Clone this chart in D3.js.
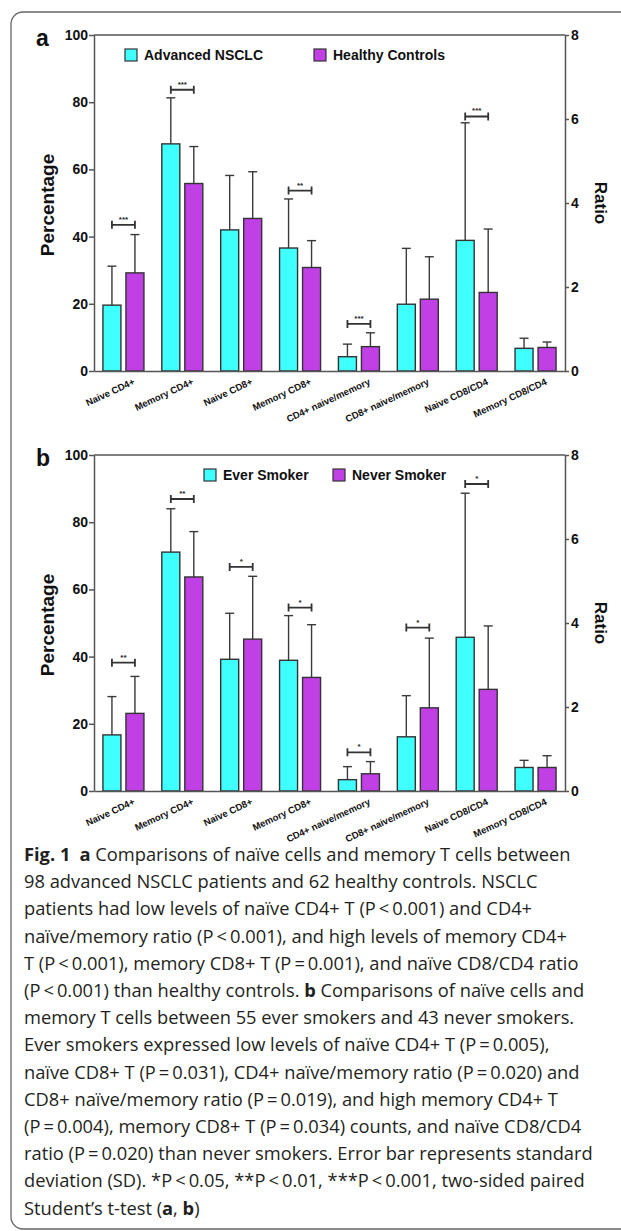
<!DOCTYPE html>
<html>
<head>
<meta charset="utf-8">
<script src="https://cdn.jsdelivr.net/npm/d3@7"></script>
<style>
  body { margin: 0; background: #fff; }
  svg { display: block; }
</style>
</head>
<body>
<svg id="fig" width="621" height="1231"></svg>
<script>
// ---- data ----------------------------------------------------------------
const categories = ["Naive CD4+", "Memory CD4+", "Naive CD8+", "Memory CD8+",
                    "CD4+ naive/memory", "CD8+ naive/memory", "Naive CD8/CD4", "Memory CD8/CD4"];
// the last four categories are ratios and are read on the right-hand axis
const onRatioAxis = [false, false, false, false, true, true, true, true];

const percentTicks = [0, 20, 40, 60, 80, 100];
const ratioTicks = [0, 2, 4, 6, 8];

// panel a: advanced NSCLC vs healthy controls (mean, SD)
const nsclcMean   = [19.6, 67.6, 42.0, 36.6, 0.34, 1.59, 3.11, 0.54];
const nsclcSD     = [11.6, 13.7, 16.2, 14.6, 0.30, 1.33, 2.80, 0.24];
const controlMean = [29.2, 55.8, 45.4, 30.8, 0.58, 1.71, 1.87, 0.56];
const controlSD   = [11.4, 11.0, 13.9, 8.0, 0.33, 1.01, 1.51, 0.13];

// panel b: ever vs never smokers (mean, SD)
const everMean  = [16.7, 71.1, 39.2, 38.9, 0.27, 1.29, 3.66, 0.56];
const everSD    = [11.4, 12.9, 13.7, 13.3, 0.31, 0.98, 3.43, 0.17];
const neverMean = [23.1, 63.7, 45.2, 33.8, 0.41, 1.98, 2.42, 0.56];
const neverSD   = [11.0, 13.5, 18.7, 15.7, 0.29, 1.66, 1.51, 0.28];

// significance brackets: category index, height (in that category's axis units), label
const sigIndexA = [0, 1, 3, 4, 6];
const sigLevelA = [43.5, 83.7, 53.7, 1.12, 6.06];
const sigTextA  = ["***", "***", "**", "***", "***"];

const sigIndexB = [0, 1, 2, 3, 4, 5, 6];
const sigLevelB = [38.2, 86.9, 66.7, 54.6, 0.92, 3.89, 7.31];
const sigTextB  = ["**", "**", "*", "*", "*", "*", "*"];

const seriesNamesA = ["Advanced NSCLC", "Healthy Controls"];
const seriesNamesB = ["Ever Smoker", "Never Smoker"];

const captionLines = [
  [["Fig. 1", true], ["\u2002", false], ["a", true], [" Comparisons of na\u00efve cells and memory T cells between", false]],
  [["98 advanced NSCLC patients and 62 healthy controls. NSCLC", false]],
  [["patients had low levels of na\u00efve CD4+ T (P\u2009<\u20090.001) and CD4+", false]],
  [["na\u00efve/memory ratio (P\u2009<\u20090.001), and high levels of memory CD4+", false]],
  [["T (P\u2009<\u20090.001), memory CD8+ T (P\u2009=\u20090.001), and na\u00efve CD8/CD4 ratio", false]],
  [["(P\u2009<\u20090.001) than healthy controls. ", false], ["b", true], [" Comparisons of na\u00efve cells and", false]],
  [["memory T cells between 55 ever smokers and 43 never smokers.", false]],
  [["Ever smokers expressed low levels of na\u00efve CD4+ T (P\u2009=\u20090.005),", false]],
  [["na\u00efve CD8+ T (P\u2009=\u20090.031), CD4+ na\u00efve/memory ratio (P\u2009=\u20090.020) and", false]],
  [["CD8+ na\u00efve/memory ratio (P\u2009=\u20090.019), and high memory CD4+ T", false]],
  [["(P\u2009=\u20090.004), memory CD8+ T (P\u2009=\u20090.034) counts, and na\u00efve CD8/CD4", false]],
  [["ratio (P\u2009=\u20090.020) than never smokers. Error bar represents standard", false]],
  [["deviation (SD). *P\u2009<\u20090.05, **P\u2009<\u20090.01, ***P\u2009<\u20090.001, two-sided paired", false]],
  [["Student\u2019s t-test (", false], ["a", true], [", ", false], ["b", true], [")", false]]
];

// ---- styling -------------------------------------------------------------
const CYAN = "#40ffff";
const PURPLE = "#c040e6";
const AXIS = "#555";
const EDGE = "#333";
const chartFont = "'Liberation Sans', Arial, Helvetica, sans-serif";

const svg = d3.select("#fig");

// outer frame with rounded corners (right side runs past the page edge)
svg.append("rect")
  .attr("x", 11).attr("y", 12)
  .attr("width", 700).attr("height", 1217)
  .attr("rx", 12)
  .attr("fill", "none")
  .attr("stroke", "#666")
  .attr("stroke-width", 1.3);

const x = d3.scaleBand().domain(categories).range([94, 565]);
const half = 2.5, barW = 18;

function drawPanel(cfg) {
  const g = svg.append("g").style("font-family", chartFont);
  const yL = d3.scaleLinear().domain([0, 100]).range([cfg.bottom, cfg.top]);
  const yR = d3.scaleLinear().domain([0, 8]).range([cfg.bottom, cfg.top]);
  const yFor = i => (onRatioAxis[i] ? yR : yL);
  const cx = c => x(c) + x.bandwidth() / 2;

  // error bars (upper half only, drawn before the bars)
  const series = [
    { mean: cfg.mean1, sd: cfg.sd1, fill: CYAN, off: -half - barW / 2 },
    { mean: cfg.mean2, sd: cfg.sd2, fill: PURPLE, off: half + barW / 2 }
  ];
  series.forEach(s => {
    const eg = g.append("g").attr("stroke", "#3a3a3a").attr("stroke-width", 1.4);
    categories.forEach((c, i) => {
      const y = yFor(i);
      const xc = cx(c) + s.off;
      eg.append("line")
        .attr("x1", xc).attr("x2", xc)
        .attr("y1", y(s.mean[i])).attr("y2", y(s.mean[i] + s.sd[i]));
      eg.append("line")
        .attr("x1", xc - 4.5).attr("x2", xc + 4.5)
        .attr("y1", y(s.mean[i] + s.sd[i])).attr("y2", y(s.mean[i] + s.sd[i]));
    });
  });

  // bars
  series.forEach(s => {
    g.append("g").selectAll("rect")
      .data(categories)
      .join("rect")
      .attr("x", c => cx(c) + s.off - barW / 2)
      .attr("width", barW)
      .attr("y", (c, i) => yFor(i)(s.mean[i]))
      .attr("height", (c, i) => yFor(i)(0) - yFor(i)(s.mean[i]))
      .attr("fill", s.fill)
      .attr("stroke", EDGE)
      .attr("stroke-width", 1.4);
  });

  // frame: top line
  g.append("line")
    .attr("x1", 94).attr("x2", 565)
    .attr("y1", cfg.top).attr("y2", cfg.top)
    .attr("stroke", AXIS).attr("stroke-width", 1.5);

  // left axis
  const left = g.append("g")
    .attr("transform", `translate(94,0)`)
    .call(d3.axisLeft(yL).tickValues(percentTicks).tickSize(5).tickSizeOuter(0).tickPadding(1));
  // right axis
  const right = g.append("g")
    .attr("transform", `translate(565,0)`)
    .call(d3.axisRight(yR).tickValues(ratioTicks).tickSize(4).tickSizeOuter(0).tickPadding(2));
  [left, right].forEach(a => {
    a.select(".domain").attr("stroke", AXIS).attr("stroke-width", 1.5);
    a.selectAll(".tick line").attr("stroke", AXIS).attr("stroke-width", 1.5);
    a.selectAll(".tick text")
      .attr("fill", "#111")
      .style("font-family", chartFont)
      .style("font-size", "14px")
      .style("font-weight", "bold");
  });

  // bottom axis with slanted category labels
  const bottom = g.append("g")
    .attr("transform", `translate(0,${cfg.bottom})`)
    .call(d3.axisBottom(x).tickSize(0).tickSizeOuter(0));
  bottom.select(".domain").attr("stroke", AXIS).attr("stroke-width", 1.5);
  bottom.selectAll(".tick text")
    .attr("y", 0).attr("dy", 0)
    .attr("text-anchor", "end")
    .attr("transform", "translate(12,13) rotate(-25)")
    .attr("fill", "#111")
    .style("font-family", chartFont)
    .style("font-size", "9.5px")
    .style("font-weight", "bold");

  // significance brackets
  const sg = g.append("g");
  cfg.sigIndex.forEach((idx, k) => {
    const c = categories[idx];
    const yy = yFor(idx)(cfg.sigLevel[k]);
    const x1 = cx(c) + series[0].off, x2 = cx(c) + series[1].off;
    const p = d3.path();
    p.moveTo(x1, yy); p.lineTo(x2, yy);
    p.moveTo(x1, yy - 4); p.lineTo(x1, yy + 4);
    p.moveTo(x2, yy - 4); p.lineTo(x2, yy + 4);
    sg.append("path").attr("d", p.toString())
      .attr("stroke", "#333").attr("stroke-width", 1.8).attr("fill", "none");
    sg.append("text")
      .attr("x", (x1 + x2) / 2).attr("y", yy - 3)
      .attr("text-anchor", "middle")
      .attr("fill", "#222")
      .style("font-size", "8px").style("font-weight", "bold")
      .text(cfg.sigText[k]);
  });

  // legend
  const lg = g.append("g");
  cfg.legendX.forEach((lx, k) => {
    lg.append("rect")
      .attr("x", lx).attr("y", cfg.top + 14)
      .attr("width", 12).attr("height", 12)
      .attr("fill", k === 0 ? CYAN : PURPLE)
      .attr("stroke", EDGE).attr("stroke-width", 1.2);
    lg.append("text")
      .attr("x", lx + 19).attr("y", cfg.top + 25)
      .attr("fill", "#111")
      .style("font-size", "14px").style("font-weight", "bold")
      .text(cfg.names[k]);
  });

  // panel letter and axis titles
  g.append("text")
    .attr("x", 36).attr("y", cfg.top + 11)
    .attr("fill", "#111")
    .style("font-size", "23px").style("font-weight", "bold")
    .text(cfg.letter);
  const midY = (cfg.top + cfg.bottom) / 2;
  g.append("text")
    .attr("transform", `translate(54,${midY + 2}) rotate(-90)`)
    .attr("text-anchor", "middle")
    .attr("fill", "#111")
    .style("font-size", "19px").style("font-weight", "bold")
    .text("Percentage");
  g.append("text")
    .attr("transform", `translate(595,${midY}) rotate(90)`)
    .attr("text-anchor", "middle")
    .attr("fill", "#111")
    .style("font-size", "17px").style("font-weight", "bold")
    .text("Ratio");
}

drawPanel({
  top: 35, bottom: 371, letter: "a",
  mean1: nsclcMean, sd1: nsclcSD, mean2: controlMean, sd2: controlSD,
  sigIndex: sigIndexA, sigLevel: sigLevelA, sigText: sigTextA,
  names: seriesNamesA, legendX: [125, 314]
});

drawPanel({
  top: 455, bottom: 791, letter: "b",
  mean1: everMean, sd1: everSD, mean2: neverMean, sd2: neverSD,
  sigIndex: sigIndexB, sigLevel: sigLevelB, sigText: sigTextB,
  names: seriesNamesB, legendX: [204, 333]
});

// caption
const cap = svg.append("text")
  .attr("fill", "#231f20")
  .style("font-family", "'Open Sans', 'Noto Sans', sans-serif")
  .style("font-size", "18.3px");
captionLines.forEach((segs, li) => {
  segs.forEach((s, si) => {
    const t = cap.append("tspan").text(s[0]).style("font-weight", s[1] ? "bold" : "normal");
    if (si === 0) t.attr("x", 24).attr("y", 861 + li * 27.2);
  });
});
</script>
</body>
</html>
